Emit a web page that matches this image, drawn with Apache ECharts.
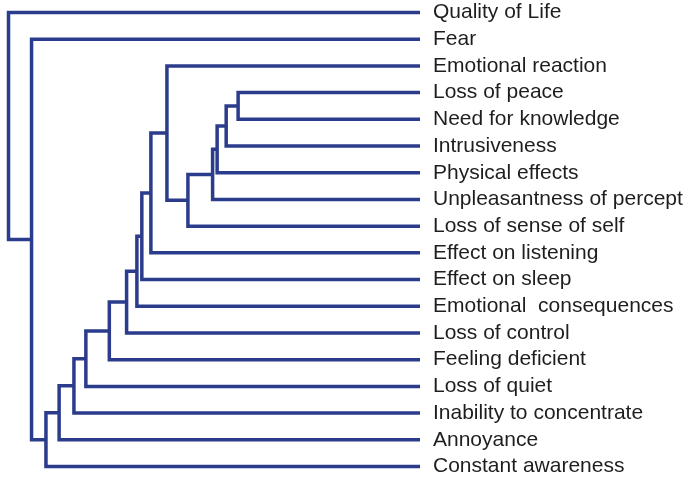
<!DOCTYPE html>
<html>
<head>
<meta charset="utf-8">
<script src="https://cdn.jsdelivr.net/npm/echarts@6/dist/echarts.min.js"></script>
<style>
  html, body { margin: 0; padding: 0; background: #fff; }
  #chart { width: 700px; height: 477px; }
</style>
</head>
<body>
<div id="chart"></div>
<script>
// leaves, top to bottom
var leaves = [
  'Quality of Life',
  'Fear',
  'Emotional reaction',
  'Loss of peace',
  'Need for knowledge',
  'Intrusiveness',
  'Physical effects',
  'Unpleasantness of percept',
  'Loss of sense of self',
  'Effect on listening',
  'Effect on sleep',
  'Emotional  consequences',
  'Loss of control',
  'Feeling deficient',
  'Loss of quiet',
  'Inability to concentrate',
  'Annoyance',
  'Constant awareness'
];

// linkage: [node a, node b, height]; new cluster ids start at leaves.length
var merges = [
  [3, 4, 44.2],
  [18, 5, 47.1],
  [19, 6, 49.3],
  [20, 7, 50.4],
  [21, 8, 56.4],
  [2, 22, 61.5],
  [23, 9, 65.4],
  [24, 10, 67.6],
  [25, 11, 68.8],
  [26, 12, 71.3],
  [27, 13, 75.5],
  [28, 14, 81.2],
  [29, 15, 84.1],
  [30, 16, 87.7],
  [31, 17, 90.9],
  [1, 32, 94.4],
  [0, 33, 100]
];

// node positions: height and row
var nodeH = [], nodeY = [];
leaves.forEach(function (name, i) { nodeH.push(0); nodeY.push(i); });
var links = [];
merges.forEach(function (m) {
  var a = m[0], b = m[1], h = m[2];
  links.push([nodeH[a], nodeY[a], h, nodeY[b], nodeH[b]]);
  nodeH.push(h);
  nodeY.push((nodeY[a] + nodeY[b]) / 2);
});

var chart = echarts.init(document.getElementById('chart'));
chart.setOption({
  animation: false,
  grid: { left: 8.5, right: 280, top: 12.5, bottom: 9.5 },
  xAxis: { type: 'value', inverse: true, min: 0, max: 100, show: false },
  yAxis: [
    { type: 'value', inverse: true, min: 0, max: leaves.length - 1, show: false },
    {
      type: 'category',
      inverse: true,
      position: 'right',
      boundaryGap: false,
      data: leaves,
      axisLine: { show: false },
      axisTick: { show: false },
      splitLine: { show: false },
      axisLabel: {
        interval: 0,
        margin: 13,
        color: '#1e1e1e',
        fontSize: 21,
        fontFamily: 'Liberation Sans, Arial, sans-serif'
      }
    }
  ],
  series: [{
    type: 'custom',
    yAxisIndex: 0,
    data: links,
    renderItem: function (params, api) {
      var p1 = api.coord([api.value(0), api.value(1)]);
      var p2 = api.coord([api.value(2), api.value(1)]);
      var p3 = api.coord([api.value(2), api.value(3)]);
      var p4 = api.coord([api.value(4), api.value(3)]);
      return {
        type: 'polyline',
        shape: { points: [p1, p2, p3, p4] },
        style: { fill: null, stroke: '#2c3c8c', lineWidth: 3.5, lineJoin: 'miter' }
      };
    }
  }]
});
</script>
</body>
</html>
